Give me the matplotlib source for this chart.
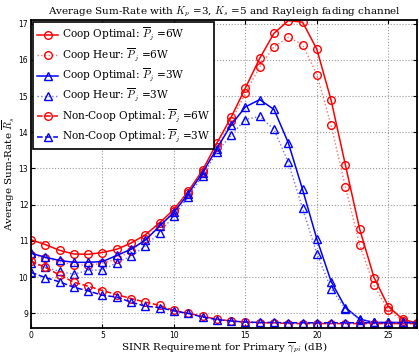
import matplotlib.pyplot as plt

plt.rcParams['mathtext.fontset'] = 'cm'
plt.rcParams['font.family'] = ['DejaVu Serif']

# SINR requirement (dB)
sinr = list(range(0, 28))

coop_opt_6w = [11.03, 10.9, 10.74, 10.64, 10.63, 10.68, 10.77, 10.94, 11.17, 11.5,
               11.87, 12.37, 12.95, 13.7, 14.41, 15.22, 16.04, 16.73, 17.08, 17.04,
               16.29, 14.88, 13.09, 11.32, 9.99, 9.19, 8.84, 8.73]
coop_heur_6w = [10.62, 10.52, 10.42, 10.34, 10.33, 10.38, 10.5, 10.72, 11.05, 11.42,
                11.82, 12.33, 12.9, 13.6, 14.3, 15.08, 15.8, 16.36, 16.62, 16.42,
                15.59, 14.19, 12.49, 10.88, 9.77, 9.08, 8.8, 8.72]
coop_opt_3w = [10.66, 10.55, 10.46, 10.41, 10.41, 10.43, 10.6, 10.77, 11.02, 11.41,
               11.79, 12.3, 12.88, 13.55, 14.2, 14.7, 14.9, 14.63, 13.71, 12.42,
               11.05, 9.88, 9.16, 8.84, 8.75, 8.75, 8.75, 8.75]
coop_heur_3w = [10.4, 10.27, 10.16, 10.08, 10.19, 10.2, 10.4, 10.58, 10.86, 11.23,
                11.69, 12.22, 12.8, 13.45, 13.92, 14.35, 14.44, 14.08, 13.17, 11.9,
                10.65, 9.68, 9.13, 8.83, 8.75, 8.75, 8.75, 8.75]
noncoop_6w = [10.44, 10.27, 10.06, 9.86, 9.75, 9.63, 9.52, 9.41, 9.31, 9.22,
              9.08, 9.0, 8.92, 8.84, 8.79, 8.76, 8.74, 8.74, 8.72, 8.72,
              8.72, 8.72, 8.72, 8.72, 8.72, 8.72, 8.72, 8.72]
noncoop_3w = [10.13, 9.99, 9.87, 9.72, 9.62, 9.5, 9.45, 9.31, 9.2, 9.16,
              9.07, 9.0, 8.9, 8.83, 8.79, 8.76, 8.75, 8.75, 8.74, 8.74,
              8.74, 8.74, 8.74, 8.74, 8.74, 8.74, 8.74, 8.74]

labels = ['Coop Optimal: $\\overline{P}_j$ =6W',
          'Coop Heur: $\\overline{P}_j$ =6W',
          'Coop Optimal: $\\overline{P}_j$ =3W',
          'Coop Heur: $\\overline{P}_j$ =3W',
          'Non-Coop Optimal: $\\overline{P}_j$ =6W',
          'Non-Coop Optimal: $\\overline{P}_j$ =3W']

fig = plt.figure(figsize=(4.19, 3.56), dpi=100)
ax = fig.add_axes([0.074, 0.079, 0.921, 0.865])

ms = 5.5
ax.plot(sinr, coop_opt_6w, '-o', color='red', lw=1.1, ms=ms, mfc='none', mew=1.0, label=labels[0])
ax.plot(sinr, coop_heur_6w, ':o', color='#ff7070', lw=1.0, ms=ms, mfc='none', mec='red', mew=1.0, label=labels[1])
ax.plot(sinr, coop_opt_3w, '-^', color='blue', lw=1.1, ms=ms, mfc='none', mew=1.0, label=labels[2])
ax.plot(sinr, coop_heur_3w, ':^', color='#7070ff', lw=1.0, ms=ms, mfc='none', mec='blue', mew=1.0, label=labels[3])
ax.plot(sinr, noncoop_6w, '--o', color='red', lw=1.1, ms=ms, mfc='none', mew=1.0, label=labels[4])
ax.plot(sinr, noncoop_3w, '--^', color='blue', lw=1.1, ms=ms, mfc='none', mew=1.0, label=labels[5])

ax.set_xlim(0, 27)
ax.set_ylim(8.6, 17.1)
ax.set_xticks([0, 5, 10, 15, 20, 25])
ax.set_yticks([9, 10, 11, 12, 13, 14, 15, 16, 17])
ax.grid(True, linestyle=':', color='#999999', lw=0.8)
ax.tick_params(direction='in', top=True, right=True, length=3, labelsize=5.5, pad=2)
for lab in ax.get_xticklabels() + ax.get_yticklabels():
    lab.set_family('DejaVu Sans')
for s in ax.spines.values():
    s.set_linewidth(1.3)

ax.set_title('Average Sum-Rate with $K_p$ =3, $K_s$ =5 and Rayleigh fading channel',
             fontsize=7.5, pad=4)
ax.set_xlabel('SINR Requirement for Primary $\\overline{\\gamma}_{pi}$ (dB)', fontsize=7.5, labelpad=1)
ax.set_ylabel('Average Sum-Rate $\\overline{R}_s$', fontsize=7.5, labelpad=1)

leg = ax.legend(loc='upper left', fontsize=7.6, fancybox=False, framealpha=1,
                borderaxespad=0.2, handlelength=2.0, handletextpad=0.3,
                labelspacing=0.32, borderpad=0.4)
leg.get_frame().set_edgecolor('black')
leg.get_frame().set_linewidth(1.2)

fig.savefig('out.png', dpi=100)
